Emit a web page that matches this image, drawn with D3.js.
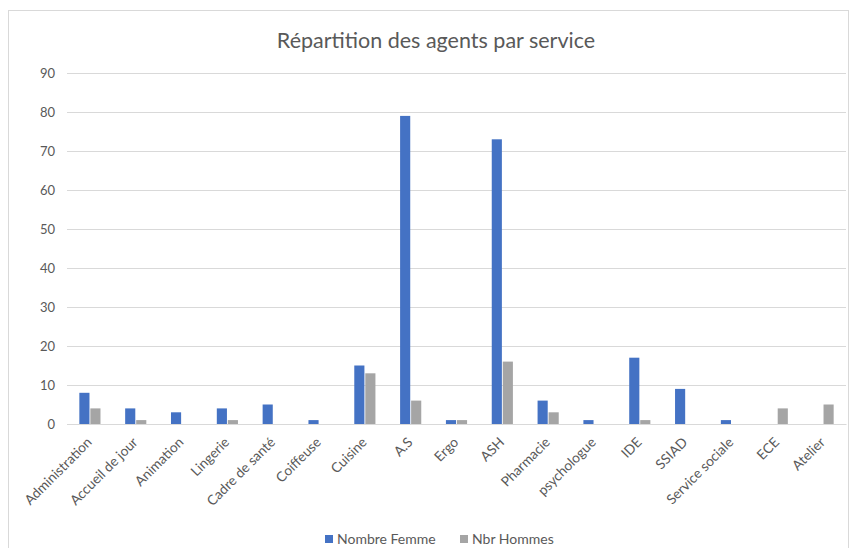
<!DOCTYPE html>
<html><head><meta charset="utf-8">
<script src="https://cdn.jsdelivr.net/npm/d3@7"></script>
<style>body{margin:0;background:#fff}svg{display:block}svg text{font-family:Lato,"Open Sans",sans-serif}</style>
</head><body><svg id="c" width="853" height="548"></svg>
<script>
const categories = ["Administration","Accueil de jour","Animation","Lingerie","Cadre de santé","Coiffeuse","Cuisine","A.S","Ergo","ASH","Pharmacie","psychologue","IDE","SSIAD","Service sociale","ECE","Atelier"];
const femmes = [8,4,3,4,5,1,15,79,1,73,6,1,17,9,1,0,0];
const hommes = [4,1,0,1,0,0,13,6,1,16,3,0,1,0,0,4,5];
const seriesNames = ["Nombre Femme","Nbr Hommes"];
const colors = ["#4472C4","#A5A5A5"];
const yTicks = [0,10,20,30,40,50,60,70,80,90];

const svg = d3.select("#c");
svg.append("rect").attr("x",8.5).attr("y",10.5).attr("width",840).attr("height",545).attr("fill","#fff").attr("stroke","#d9d9d9");
const m = {l:67,r:846,t:73,b:424};
const x = d3.scaleBand().domain(categories).range([m.l,m.r]).paddingInner(0.5).paddingOuter(0.25);
const x1 = d3.scaleBand().domain([0,1]).range([0,x.bandwidth()]).padding(0.08);
const y = d3.scaleLinear().domain([0,90]).range([m.b,m.t]);

const gy = svg.append("g").attr("transform",`translate(${m.l},0)`)
  .call(d3.axisLeft(y).tickValues(yTicks).tickSize(-(m.r-m.l)).tickPadding(12));
gy.attr("font-family",null);
gy.select(".domain").remove();
gy.selectAll("line").attr("stroke","#d9d9d9");
gy.selectAll("text").attr("fill","#595959").style("font-size","13px");

const series = [femmes,hommes];
series.forEach((vals,si)=>{
  svg.append("g").selectAll("rect").data(vals).join("rect")
    .attr("x",(d,i)=>x(categories[i])+x1(si))
    .attr("width",x1.bandwidth())
    .attr("y",d=>y(d))
    .attr("height",d=>y(0)-y(d))
    .attr("fill",colors[si]);
});

const gx = svg.append("g").attr("transform",`translate(0,${m.b})`)
  .call(d3.axisBottom(x).tickSize(0).tickPadding(0));
gx.attr("font-family",null);
gx.select(".domain").attr("stroke","#d9d9d9");
gx.selectAll("text").attr("fill","#595959").style("font-size","13.7px")
  .attr("text-anchor","end").attr("dx","4").attr("dy","0")
  .attr("transform","translate(0,22) rotate(-45)");

svg.append("text").attr("x",436).attr("y",48).attr("text-anchor","middle")
  .attr("fill","#595959").style("font-size","21.5px").text("Répartition des agents par service");

const lg = svg.append("g");
const lx = [325,460];
seriesNames.forEach((n,i)=>{
  lg.append("rect").attr("x",lx[i]).attr("y",535).attr("width",8).attr("height",8).attr("fill",colors[i]);
  lg.append("text").attr("x",lx[i]+12).attr("y",544).attr("fill","#595959").style("font-size","14px").text(n);
});
</script></body></html>
